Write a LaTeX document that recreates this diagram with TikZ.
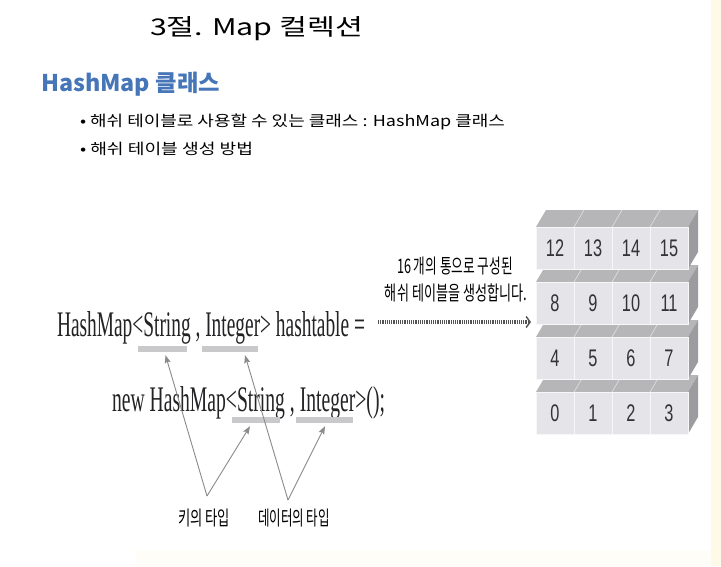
\documentclass[tikz,border=0pt]{standalone}
\usepackage{fontspec}
\usepackage{graphicx}
\setmainfont{Liberation Sans}
\newfontfamily\kr{Noto Sans CJK KR}
\newfontfamily\codefont{Liberation Serif}
\newfontfamily\numfont{Liberation Sans}
\usetikzlibrary{arrows.meta}
\newcommand{\fitw}[2]{\resizebox{#1}{\height}{#2}}
\definecolor{hblue}{RGB}{70,118,184}
\definecolor{frontc}{RGB}{229,229,233}
\definecolor{topc}{RGB}{182,182,185}
\definecolor{sidec}{RGB}{156,156,160}
\definecolor{barc}{RGB}{201,201,203}
\definecolor{ptrc}{RGB}{138,138,140}
\definecolor{numc}{RGB}{50,50,55}
\definecolor{codec}{RGB}{35,35,38}
\definecolor{paley}{RGB}{255,250,232}
\definecolor{paleb}{RGB}{254,253,248}
\tikzset{
  txt/.style={inner sep=0pt, outer sep=0pt},
  cell/.style={rectangle, minimum width=38pt, minimum height=42pt, inner sep=0pt,
    fill=frontc, draw=white!70!frontc, line width=0.8pt, text=numc,
    font=\numfont\fontsize{24}{26}\selectfont},
  topline/.style={draw=white!60!topc, line width=0.6pt},
  bar/.style={rectangle, fill=barc, minimum height=6pt, inner sep=0pt},
  ptr/.style={draw=ptrc, line width=0.9pt, -{Stealth[length=8pt,width=6pt,inset=1.5pt]}},
  dotarrow/.style={draw=black!68, line width=3.2pt, dash pattern=on 1.1pt off 1.1pt,
    -{Straight Barb[length=4pt,width=11pt,line width=1.4pt]}},
}
\begin{document}
\begin{tikzpicture}[x=1pt,y=-1pt]
\useasboundingbox (0,0) rectangle (721,566);
\fill[white] (0,0) rectangle (721,566);
\fill[paleb] (136,550) rectangle (721,566);
\fill[paley] (711,0) rectangle (721,566);

% titles
\node[txt, anchor=base west] (title) at (150,35)
  {\fitw{213pt}{\kr\fontsize{23}{26}\selectfont 3절. Map 컬렉션}};
\node[txt, anchor=base west, text=hblue] (head) at (41,91)
  {\fitw{179pt}{\kr\bfseries\fontsize{23}{26}\selectfont HashMap 클래스}};
\node[txt, anchor=base west] (bul1) at (80,126)
  {\fitw{425pt}{\kr\fontsize{15}{17}\selectfont • 해쉬 테이블로 사용할 수 있는 클래스 : HashMap 클래스}};
\node[txt, anchor=base west] (bul2) at (80,154)
  {\fitw{173pt}{\kr\fontsize{15}{17}\selectfont • 해쉬 테이블 생성 방법}};

% code lines
\node[txt, anchor=base west, text=codec] (code1) at (57,336)
  {\fitw{308pt}{\codefont\fontsize{36}{40}\selectfont HashMap<String , Integer> hashtable =}};
\node[txt, anchor=base west, text=codec] (code2) at (112,411)
  {\fitw{273pt}{\codefont\fontsize{36}{40}\selectfont new HashMap<String , Integer>();}};

% underline bars
\node[bar, minimum width=49pt] (b1) at (162.5,349) {};
\node[bar, minimum width=56pt] (b2) at (230,349) {};
\node[bar, minimum width=48pt] (b3) at (256,420) {};
\node[bar, minimum width=57pt] (b4) at (324.5,420) {};

% labels below
\node[txt] (lkey) at (204,518)
  {\fitw{52pt}{\kr\fontsize{20}{22}\selectfont 키의 타입}};
\node[txt] (ldata) at (294,518)
  {\fitw{72pt}{\kr\fontsize{20}{22}\selectfont 데이터의 타입}};
\coordinate (v1) at (207,496);
\coordinate (v2) at (288,500);
\draw[ptr] (v1) -- ([xshift=3pt,yshift=-3pt]b1.south);
\draw[ptr] (v1) -- ([xshift=-6pt,yshift=-3pt]b3.south);
\draw[ptr] (v2) -- ([xshift=15pt,yshift=-3pt]b2.south);
\draw[ptr] (v2) -- ([xshift=0.5pt,yshift=-3pt]b4.south);

% arrow label
\node[txt] (l16) at (455,266)
  {\fitw{116pt}{\kr\fontsize{20}{22}\selectfont 16 개의 통으로 구성된}};
\node[txt] (lmake) at (456,293)
  {\fitw{142pt}{\kr\fontsize{20}{22}\selectfont 해쉬 테이블을 생성합니다.}};
\coordinate (ds) at (378,322);
\coordinate (de) at (531,322);
\draw[dotarrow] (ds) -- (de);

% buckets
\foreach \r/\T in {0/392,1/337,2/282,3/227} {
  \fill[topc] (536,\T) -- (546,\T-17) -- (698,\T-17) -- (688,\T) -- cycle;
  \foreach \x in {574,612,650} \draw[topline] (\x,\T) -- (\x+10,\T-17);
  \fill[sidec] (688,\T) -- (698,\T-17) -- (698,\T+25) -- (688,\T+42) -- cycle;
  \foreach \c in {0,...,3} {
    \pgfmathtruncatemacro\n{4*\r+\c}
    \node[cell] (c\n) at ({555+38*\c},\T+21) {\scalebox{0.68}[1]{\n}};
  }
}
\end{tikzpicture}
\end{document}
